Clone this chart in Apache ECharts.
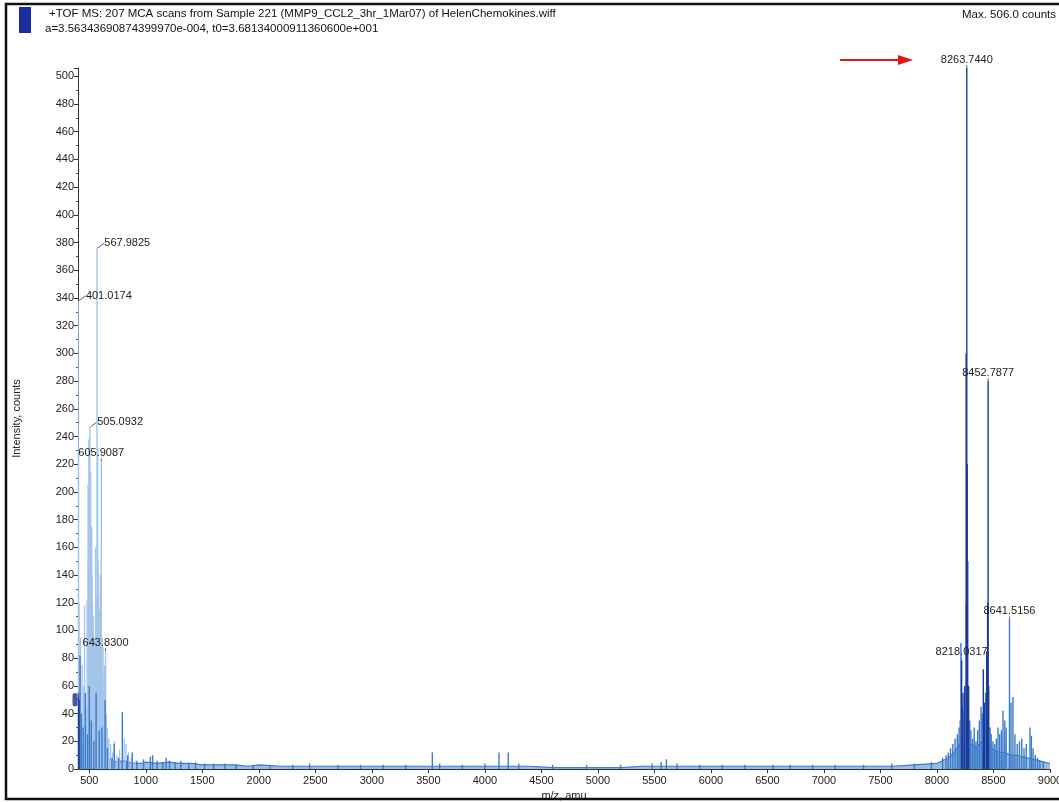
<!DOCTYPE html>
<html>
<head>
<meta charset="utf-8">
<title>TOF MS spectrum</title>
<script src="https://cdn.jsdelivr.net/npm/echarts@6/dist/echarts.min.js"></script>
<style>
  html, body { margin: 0; padding: 0; background: #ffffff; }
  #chart { width: 1059px; height: 802px; }
</style>
</head>
<body>
<div id="chart"></div>
<script>
// Spectrum header text
const headerLine1 = '+TOF MS: 207 MCA scans from Sample 221 (MMP9_CCL2_3hr_1Mar07) of HelenChemokines.wiff';
const headerLine2 = 'a=3.56343690874399970e-004, t0=3.68134000911360600e+001';
const maxText = 'Max. 506.0 counts';

// Axis tick labels
const xTickLabels = [500, 1000, 1500, 2000, 2500, 3000, 3500, 4000, 4500, 5000, 5500, 6000, 6500, 7000, 7500, 8000, 8500, 9000];

// Centroid peaks, [m/z, counts]
const lightPeaks = [
  [401.0174, 338], [405, 232], [409, 120], [413, 60], [422, 95], [436, 75], [450, 60], [458, 118],
  [472, 45], [481, 122], [489, 205], [493, 150], [496, 238], [505.0932, 247], [509, 180], [512, 215],
  [521, 175], [525, 140], [528, 120], [536, 110], [544, 70], [548, 95], [556, 160], [562, 120],
  [567.9825, 376], [574, 232], [578, 150], [582, 125], [591, 115], [598, 140], [605.9087, 222],
  [614, 95], [622, 88], [630, 65], [636, 75], [643.8300, 85], [651, 40], [660, 30], [672, 22],
  [688, 18], [705, 12], [722, 20], [745, 10], [768, 14], [808, 22], [825, 18], [846, 12], [872, 8],
  [905, 6], [8255, 120], [8465, 30], [8600, 20]
];

const midPeaks = [
  [403, 52], [418, 82], [430, 40], [446, 30], [465, 55], [484, 25], [500, 60], [517, 35], [540, 20],
  [560, 55], [588, 28], [612, 30], [640, 50], [660, 15], [700, 8], [760, 8], [792, 41], [830, 6],
  [720, 18], [840, 10], [880, 12], [920, 6], [980, 7], [1040, 9], [1060, 10], [1100, 6], [1150, 5],
  [1180, 8], [1210, 6], [1260, 5], [1310, 6], [1380, 4], [1440, 5], [1520, 4], [1600, 4], [1700, 4],
  [1800, 3], [1950, 3], [2100, 3], [2300, 3], [2450, 4], [2700, 3], [2900, 3], [3100, 3], [3300, 3],
  [3535, 12], [3600, 4], [3800, 3], [4000, 4], [4125, 12], [4207, 12], [4300, 4], [4600, 3], [4900, 3],
  [5200, 3], [5480, 4], [5560, 5], [5606, 7], [5700, 4], [5900, 3], [6100, 3], [6300, 3], [6550, 3],
  [6700, 3], [6900, 3], [7100, 3], [7350, 3], [7600, 4], [7800, 4], [7950, 5],
  [8050, 8], [8080, 10], [8100, 12], [8120, 15], [8140, 18], [8160, 22], [8180, 25], [8195, 30],
  [8205, 35], [8212, 91], [8225, 45], [8240, 40], [8290, 35], [8300, 28], [8315, 22], [8330, 30],
  [8345, 20], [8360, 28], [8375, 35], [8390, 45], [8400, 40], [8430, 55], [8470, 30], [8480, 25],
  [8495, 20], [8510, 18], [8525, 22], [8540, 30], [8555, 25], [8570, 28], [8584, 42], [8600, 35],
  [8612, 30], [8641.5156, 108], [8655, 48], [8672, 52], [8690, 25], [8710, 18], [8730, 20], [8750, 22],
  [8770, 15], [8790, 18], [8823, 30], [8835, 24], [8850, 15], [8870, 10], [8890, 8], [8910, 6], [8940, 5]
];

const darkPeaks = [
  [400, 55], [410, 50], [8218.0317, 78], [8230, 55], [8245, 60], [8258, 300], [8263.7440, 506],
  [8268, 220], [8272, 150], [8280, 60], [8410, 72], [8420, 48], [8440, 85], [8448, 120],
  [8452.7877, 280], [8458, 60]
];

// Continuous baseline, [m/z, counts]
const baseline = [
  [400, 20], [450, 12], [500, 10], [550, 14], [600, 12], [650, 8], [700, 6], [750, 5], [800, 6],
  [850, 5], [900, 4], [950, 4], [1000, 5], [1100, 4], [1200, 5], [1300, 4], [1400, 4], [1500, 3],
  [1600, 3], [1700, 3], [1800, 3], [1900, 2], [2000, 3], [2200, 2], [2400, 2], [2600, 2], [2800, 2],
  [3000, 2], [3200, 2], [3400, 2], [3600, 2], [3800, 2], [4000, 2], [4200, 2], [4400, 2], [4600, 1],
  [4800, 1], [5000, 1], [5200, 1], [5400, 2], [5600, 2], [5800, 2], [6000, 2], [6200, 2], [6400, 2],
  [6600, 2], [6800, 2], [7000, 2], [7200, 2], [7400, 2], [7600, 2], [7800, 3], [8000, 4], [8100, 8],
  [8150, 12], [8200, 18], [8250, 20], [8300, 18], [8350, 16], [8400, 20], [8450, 18], [8500, 14],
  [8550, 12], [8600, 12], [8650, 10], [8700, 10], [8750, 9], [8800, 8], [8850, 7], [8900, 6],
  [8950, 5], [9000, 4]
];

// Peaks that carry an m/z annotation; 'side' labels sit to the right with a leader
const labelledTop = [8263.7440, 8452.7877, 8641.5156, 8218.0317, 605.9087, 643.8300];
const labelledSide = [567.9825, 401.0174, 505.0932];

const COLORS = { light: '#a4c4ea', mid: '#3b7bc8', dark: '#1c3a98' };

function toItems(list, color) {
  return list.map(function (p) {
    const item = { value: p, itemStyle: { color: color } };
    if (labelledTop.indexOf(p[0]) >= 0 || labelledSide.indexOf(p[0]) >= 0) {
      item.label = {
        show: true,
        position: 'top',
        distance: 3,
        formatter: function (d) { return d.value[0].toFixed(4); }
      };
    }
    return item;
  });
}

const stickData = []
  .concat(toItems(lightPeaks, COLORS.light))
  .concat(toItems(midPeaks, COLORS.mid))
  .concat(toItems(darkPeaks, COLORS.dark));

const chart = echarts.init(document.getElementById('chart'), null, { renderer: 'canvas' });

const textFont = 'Liberation Sans, Arial, sans-serif';

chart.setOption({
  animation: false,
  backgroundColor: '#ffffff',
  textStyle: { fontFamily: textFont },
  grid: { left: 78, right: 9, top: 68, bottom: 33, containLabel: false, outerBoundsMode: 'none' },
  xAxis: {
    type: 'value',
    min: 400,
    max: 9000,
    interval: 100,
    name: 'm/z, amu',
    nameLocation: 'middle',
    nameGap: 16,
    nameTextStyle: { color: '#222', fontSize: 11, fontFamily: textFont },
    axisLine: { show: true, onZero: false, lineStyle: { color: '#333', width: 1 } },
    axisTick: { show: true, length: 4, customValues: xTickLabels, lineStyle: { color: '#333' } },
    axisLabel: {
      customValues: xTickLabels,
      formatter: function (v) { return String(v); },
      color: '#222', fontSize: 11, margin: 6, fontFamily: textFont
    },
    splitLine: { show: false }
  },
  yAxis: {
    type: 'value',
    min: 0,
    max: 506,
    interval: 20,
    name: 'Intensity, counts',
    nameLocation: 'middle',
    nameGap: 56,
    nameRotate: 90,
    nameTextStyle: { color: '#222', fontSize: 11, fontFamily: textFont },
    axisLine: { show: true, lineStyle: { color: '#333', width: 1 } },
    axisTick: { show: true, length: 4, lineStyle: { color: '#333' } },
    minorTick: { show: true, splitNumber: 2, length: 2, lineStyle: { color: '#555' } },
    axisLabel: { color: '#222', fontSize: 11, margin: 4, showMaxLabel: false, fontFamily: textFont },
    splitLine: { show: false }
  },
  series: [
    {
      name: 'baseline',
      type: 'line',
      data: baseline,
      showSymbol: false,
      symbol: 'none',
      lineStyle: { color: '#3b7bc8', width: 1.2 },
      areaStyle: { color: '#6f9fd8', opacity: 0.7 },
      z: 2
    },
    {
      name: 'peaks',
      type: 'bar',
      data: stickData,
      barWidth: 1.4,
      barMinWidth: 1,
      large: false,
      label: { color: '#222', fontSize: 11, fontFamily: textFont },
      labelLine: { show: true, lineStyle: { color: '#333', width: 0.8 } },
      labelLayout: function (params) {
        const v = stickData[params.dataIndex].value[0];
        if (labelledSide.indexOf(v) >= 0) {
          return {
            x: params.rect.x + 8,
            y: params.rect.y - 5,
            align: 'left',
            verticalAlign: 'middle'
          };
        }
        return {};
      },
      z: 3
    },
    {
      name: 'marker',
      type: 'scatter',
      data: [[400, 50]],
      symbol: 'roundRect',
      symbolSize: [5, 13],
      symbolOffset: [-3, 0],
      itemStyle: { color: '#1a2a8a' },
      clip: false,
      silent: true,
      z: 4
    }
  ],
  graphic: [
    { type: 'rect', shape: { x: 6, y: 4, width: 1070, height: 795 }, style: { fill: 'none', stroke: '#111', lineWidth: 2.5 }, z: 10 },
    { type: 'rect', shape: { x: 19, y: 7, width: 12, height: 26 }, style: { fill: '#1b2e9e' }, z: 10 },
    { type: 'text', x: 49, y: 14, style: { text: headerLine1, fill: '#111', font: '11.5px ' + textFont, textVerticalAlign: 'middle' }, z: 10 },
    { type: 'text', x: 45, y: 29, style: { text: headerLine2, fill: '#111', font: '11.5px ' + textFont, textVerticalAlign: 'middle' }, z: 10 },
    { type: 'text', x: 962, y: 15, style: { text: maxText, fill: '#111', font: '11.5px ' + textFont, textVerticalAlign: 'middle' }, z: 10 },
    { type: 'line', shape: { x1: 840, y1: 60, x2: 900, y2: 60 }, style: { stroke: '#e0161b', lineWidth: 2 }, z: 10 },
    { type: 'polygon', shape: { points: [[898, 55], [913, 60], [898, 65]] }, style: { fill: '#e0161b' }, z: 10 }
  ]
});
</script>
</body>
</html>
